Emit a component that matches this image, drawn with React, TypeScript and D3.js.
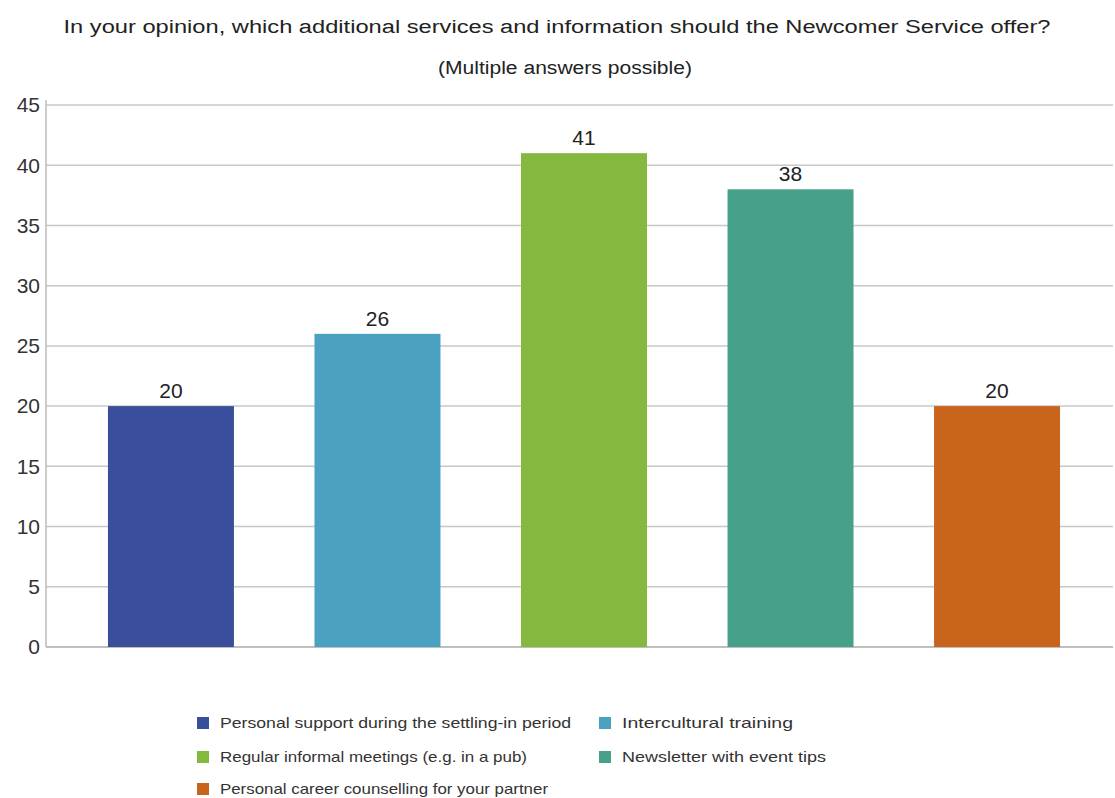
import React from "react";
import * as d3 from "d3";

const categories = [
  "Personal support during the settling-in period",
  "Intercultural training",
  "Regular informal meetings (e.g. in a pub)",
  "Newsletter with event tips",
  "Personal career counselling for your partner",
];
const values = [20, 26, 41, 38, 20];
const colors = ["#3a4f9b", "#4aa2c0", "#84b940", "#47a089", "#c8641b"];
const yTicks = [0, 5, 10, 15, 20, 25, 30, 35, 40, 45];
const title = "In your opinion, which additional services and information should the Newcomer Service offer?";
const subtitle = "(Multiple answers possible)";

export default function App() {
  const W = 1115, H = 798;
  const font = "'Liberation Sans', Arial, sans-serif";
  const x = d3.scaleBand<string>().domain(categories).range([46, 1122]).paddingInner(0.39).paddingOuter(0.3);
  const y = d3.scaleLinear().domain([0, 45]).range([647, 105]);
  const legendPos = [
    { x: 197, y: 723, w: 351 },
    { x: 599, y: 723, w: 171 },
    { x: 197, y: 757, w: 307 },
    { x: 599, y: 757, w: 204 },
    { x: 197, y: 789, w: 328 },
  ];
  return (
    <svg width={W} height={H} style={{ position: "absolute", left: 0, top: 0, background: "#fff" }} fontFamily={font}>
      <text x={557} y={33} textAnchor="middle" fontSize={18} fill="#222" textLength={987} lengthAdjust="spacingAndGlyphs">{title}</text>
      <text x={565} y={74} textAnchor="middle" fontSize={18} fill="#222" textLength={254} lengthAdjust="spacingAndGlyphs">{subtitle}</text>
      {yTicks.map((t) => (
        <g key={t}>
          <line x1={46} x2={1113} y1={y(t)} y2={y(t)} stroke={t === 0 ? "#aaa" : "#c8c8c8"} strokeWidth={1.5} />
          <text x={40} y={y(t)} dy="0.35em" textAnchor="end" fontSize={21} fill="#333">{t}</text>
        </g>
      ))}
      <line x1={46} x2={46} y1={100} y2={647} stroke="#bbb" strokeWidth={1.5} />
      {categories.map((c, i) => (
        <g key={c}>
          <rect x={x(c)} y={y(values[i])} width={x.bandwidth()} height={y(0) - y(values[i])} fill={colors[i]} />
          <text x={(x(c) as number) + x.bandwidth() / 2} y={y(values[i]) - 8} textAnchor="middle" fontSize={21} fill="#222">{values[i]}</text>
        </g>
      ))}
      {categories.map((c, i) => (
        <g key={"l" + c}>
          <rect x={legendPos[i].x} y={legendPos[i].y - 6} width={12} height={12} fill={colors[i]} />
          <text x={legendPos[i].x + 23} y={legendPos[i].y} dy="0.35em" fontSize={15} fill="#333" textLength={legendPos[i].w} lengthAdjust="spacingAndGlyphs">{c}</text>
        </g>
      ))}
    </svg>
  );
}
